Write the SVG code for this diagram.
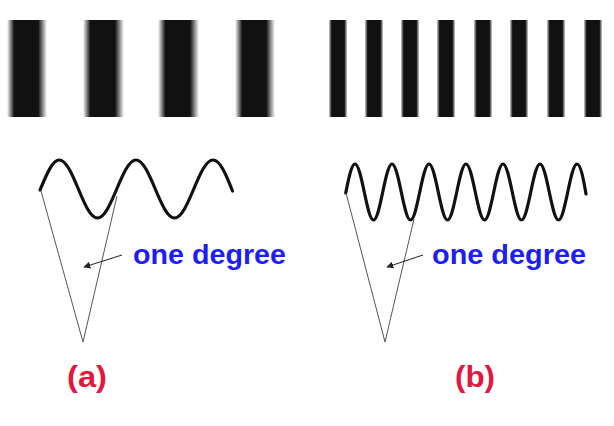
<svg xmlns="http://www.w3.org/2000/svg" width="614" height="426" viewBox="0 0 614 426">
  <style>
    .wave { fill: none; stroke: #111; stroke-width: 3.2; stroke-linecap: round; stroke-linejoin: round; }
    .tri { fill: none; stroke: #555; stroke-width: 1; }
    .arr { stroke: #333; stroke-width: 1.2; fill: none; }
    .lbl { font-family: "Liberation Sans", Arial, sans-serif; font-weight: bold; font-size: 27px; fill: #1e1ef2; }
    .tag { font-family: "Liberation Sans", Arial, sans-serif; font-weight: bold; font-size: 30px; fill: #e3173e; }
    .wide { fill: url(#gWide); }
    .narrow { fill: url(#gNarrow); }
  </style>
  <defs>
    <linearGradient id="gWide" x1="0" y1="0" x2="1" y2="0">
      <stop offset="0" stop-color="#111" stop-opacity="0"/>
      <stop offset="0.18" stop-color="#111" stop-opacity="1"/>
      <stop offset="0.78" stop-color="#111" stop-opacity="1"/>
      <stop offset="1" stop-color="#111" stop-opacity="0"/>
    </linearGradient>
    <linearGradient id="gNarrow" x1="0" y1="0" x2="1" y2="0">
      <stop offset="0" stop-color="#111" stop-opacity="0.2"/>
      <stop offset="0.15" stop-color="#111" stop-opacity="1"/>
      <stop offset="0.85" stop-color="#111" stop-opacity="1"/>
      <stop offset="1" stop-color="#111" stop-opacity="0.2"/>
    </linearGradient>
    <marker id="ah" viewBox="0 0 10 10" refX="9" refY="5" markerWidth="7" markerHeight="7" orient="auto" markerUnits="userSpaceOnUse">
      <path d="M0,0 L10,5 L0,10 z" fill="#222"/>
    </marker>
  </defs>

  <g id="grating-a">
    <rect class="wide" x="7" y="20" width="40" height="97" rx="1"/>
    <rect class="wide" x="83" y="20" width="41" height="97" rx="1"/>
    <rect class="wide" x="158" y="20" width="41" height="97" rx="1"/>
    <rect class="wide" x="235" y="20" width="40" height="97" rx="1"/>
  </g>

  <g id="grating-b">
    <rect class="narrow" x="329" y="20" width="18" height="97"/>
    <rect class="narrow" x="365" y="20" width="18" height="97"/>
    <rect class="narrow" x="401" y="20" width="18" height="97"/>
    <rect class="narrow" x="437" y="20" width="18" height="97"/>
    <rect class="narrow" x="474" y="20" width="18" height="97"/>
    <rect class="narrow" x="510" y="20" width="18" height="97"/>
    <rect class="narrow" x="547" y="20" width="18" height="97"/>
    <rect class="narrow" x="584" y="20" width="18" height="97"/>
  </g>

  <g id="wave-a">
    <path class="wave" d="M40,190 C46.3,175.1 52.3,160 59.2,160 C73.2,160 83.5,218 97.5,218 S122,160 136,160 S160.5,218 174.5,218 S199,160 213,160 C220,160 226,174.1 232.5,191"/>
  </g>

  <g id="wave-b">
    <path class="wave" d="M345.75,193 C348.77,177.66 351.65,164 355,164 C361.72,164 366.78,220 373.5,220 S385.28,164 392,164 S403.78,220 410.5,220 S422.28,164 429,164 S440.78,220 447.5,220 S459.28,164 466,164 S477.78,220 484.5,220 S496.28,164 503,164 S514.78,220 521.5,220 S533.28,164 540,164 S551.78,220 558.5,220 S570.28,164 577,164 C580.35,164 583.23,177.66 586,194"/>
  </g>

  <g id="angle-a">
    <polyline class="tri" points="41,191 83,342 117,196"/>
  </g>

  <g id="angle-b">
    <polyline class="tri" points="346,193 385,342 414,219"/>
  </g>

  <g id="connectors">
    <line class="arr" x1="122" y1="255" x2="84" y2="267" marker-end="url(#ah)"/>
    <line class="arr" x1="423" y1="255" x2="387" y2="267" marker-end="url(#ah)"/>
  </g>

  <g id="label-a">
    <text class="lbl" x="133" y="264" textLength="153" lengthAdjust="spacingAndGlyphs">one degree</text>
  </g>
  <g id="label-b">
    <text class="lbl" x="432" y="264" textLength="154" lengthAdjust="spacingAndGlyphs">one degree</text>
  </g>

  <g id="tag-a">
    <text class="tag" x="67" y="387" textLength="40" lengthAdjust="spacingAndGlyphs">(a)</text>
  </g>
  <g id="tag-b">
    <text class="tag" x="455" y="387" textLength="40" lengthAdjust="spacingAndGlyphs">(b)</text>
  </g>
</svg>
